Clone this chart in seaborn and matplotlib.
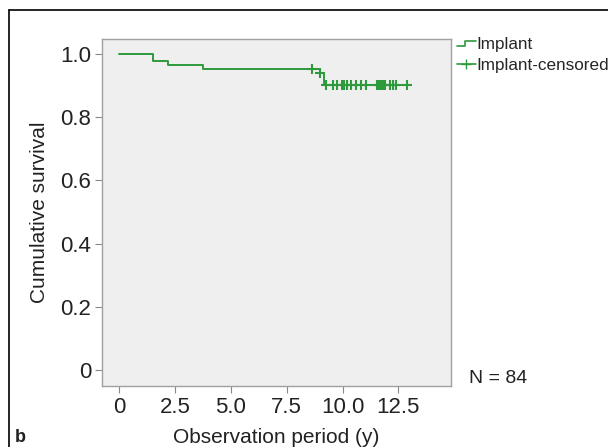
import matplotlib
matplotlib.use("Agg")
import matplotlib.pyplot as plt
import numpy as np
import pandas as pd
import seaborn as sns
from matplotlib.legend_handler import HandlerBase
from matplotlib.lines import Line2D

# Kaplan-Meier step curve
step_times = [0.0, 1.5, 2.2, 3.75, 9.0, 9.15, 12.9]
step_surv = [1.0, 0.976, 0.964, 0.952, 0.94, 0.90, 0.90]

# censored observations
censor_times = [8.63, 9.01, 9.26, 9.59, 9.75, 9.97, 10.07, 10.18, 10.37, 10.59,
                10.81, 11.03, 11.52, 11.60, 11.68, 11.76, 11.84, 11.91, 12.11,
                12.28, 12.37, 12.88]
censor_surv = [0.952, 0.94] + [0.90] * 20

x_ticks = [0, 2.5, 5.0, 7.5, 10.0, 12.5]
x_ticklabels = ["0", "2.5", "5.0", "7.5", "10.0", "12.5"]
y_ticks = [0, 0.2, 0.4, 0.6, 0.8, 1.0]
y_ticklabels = ["0", "0.2", "0.4", "0.6", "0.8", "1.0"]

green = "#2f9a3c"
text_col = "#222222"


class StepHandler(HandlerBase):
    # little step icon like the SPSS legend
    def create_artists(self, legend, orig, xd, yd, width, height, fontsize, trans):
        xs = [xd, xd + width * 0.45, xd + width * 0.45, xd + width]
        ys = [yd + height * 0.3, yd + height * 0.3, yd + height * 0.7, yd + height * 0.7]
        ln = Line2D(xs, ys, color=orig.get_color(), linewidth=orig.get_linewidth())
        ln.set_transform(trans)
        return [ln]


sns.set_style("white")
plt.rcParams["font.family"] = ["Liberation Sans", "DejaVu Sans"]

fig = plt.figure(figsize=(6.08, 4.47), dpi=100)
ax = fig.add_axes([0.168, 0.1365, 0.574, 0.7763])
ax.set_facecolor("#efefef")

curve = pd.DataFrame({"time": step_times, "surv": step_surv})
cens = pd.DataFrame({"time": censor_times, "surv": censor_surv})

sns.lineplot(data=curve, x="time", y="surv", drawstyle="steps-post",
             color=green, linewidth=1.4, ax=ax, legend=False)
sns.scatterplot(data=cens, x="time", y="surv", marker="+", color=green,
                s=45, linewidth=1.5, ax=ax, legend=False)

ax.set_xlim(-0.76, 14.86)
ax.set_ylim(-0.05, 1.046)
ax.set_xticks(x_ticks)
ax.set_xticklabels(x_ticklabels)
ax.set_yticks(y_ticks)
ax.set_yticklabels(y_ticklabels)
ax.tick_params(axis="both", labelsize=16, length=5, width=0.8,
               color="#888888", labelcolor=text_col, direction="out",
               bottom=True, left=True, pad=3)
for sp in ax.spines.values():
    sp.set_color("#a0a0a0")
    sp.set_linewidth(1.0)

ax.set_xlabel("Observation period (y)", fontsize=15, color=text_col, labelpad=7)
ax.set_ylabel("Cumulative survival", fontsize=15, color=text_col, labelpad=8)

handles = [
    Line2D([], [], color=green, linewidth=1.2),
    Line2D([], [], color=green, linewidth=1.2, marker="+", markersize=7),
]
ax.legend(handles, ["Implant", "Implant-censored"], loc="upper left",
          bbox_to_anchor=(0.997, 1.025), frameon=False, fontsize=12.3,
          handlelength=1.1, handletextpad=0.02, labelspacing=0.35,
          borderaxespad=0.0, handler_map={handles[0]: StepHandler()})

ax.text(1.05, 0.023, "N = 84", transform=ax.transAxes, fontsize=14,
        color=text_col, va="center", ha="left")
fig.text(15 / 608, 1 - 437 / 447, "b", fontsize=13, fontweight="bold",
         color=text_col, va="center", ha="left")

# outer frame of the panel (runs off the right and bottom edges)
fig.add_artist(Line2D([9 / 608, 1.0], [1 - 10 / 447] * 2,
                      transform=fig.transFigure, color="black", linewidth=1.2))
fig.add_artist(Line2D([9 / 608] * 2, [0.0, 1 - 10 / 447],
                      transform=fig.transFigure, color="black", linewidth=1.2))

fig.savefig("out.png", dpi=100)
